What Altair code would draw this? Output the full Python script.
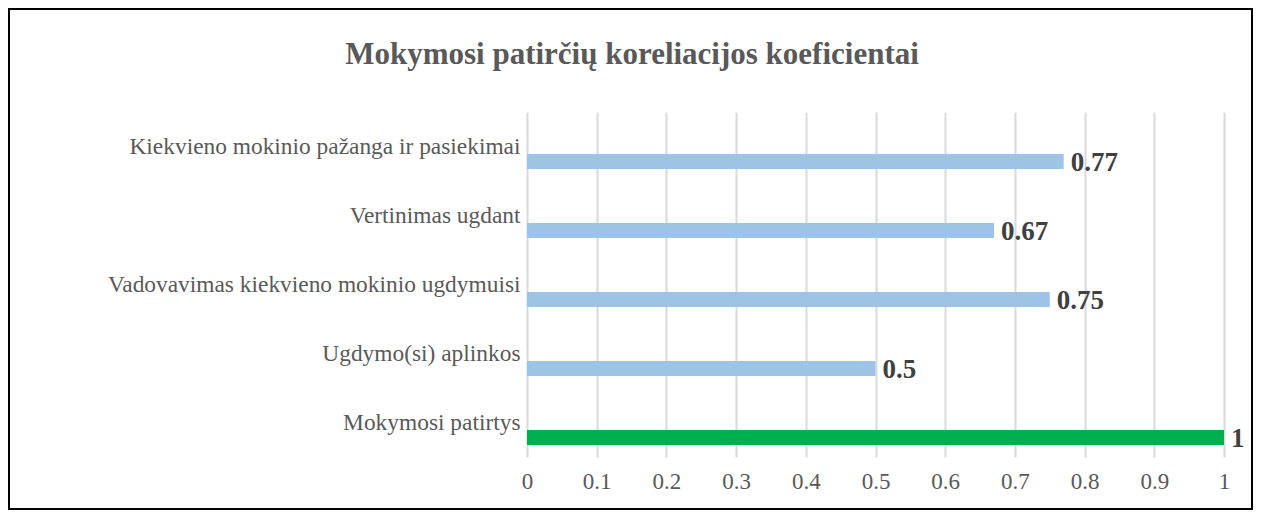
import altair as alt
import pandas as pd

categories = [
    "Kiekvieno mokinio pažanga ir pasiekimai",
    "Vertinimas ugdant",
    "Vadovavimas kiekvieno mokinio ugdymuisi",
    "Ugdymo(si) aplinkos",
    "Mokymosi patirtys",
]
values = [0.77, 0.67, 0.75, 0.5, 1]
groups = ["dalis", "dalis", "dalis", "dalis", "visuma"]
x_ticks = [0, 0.1, 0.2, 0.3, 0.4, 0.5, 0.6, 0.7, 0.8, 0.9, 1]
title_text = "Mokymosi patirčių koreliacijos koeficientai"

df = pd.DataFrame({"category": categories, "value": values, "group": groups})

W, H = 697, 345
FONT = "Liberation Serif"
PAD_L, PAD_T, PAD_R, PAD_B = 519, 104, 29, 53

y_enc = alt.Y(
    "category:N",
    sort=categories,
    scale=alt.Scale(paddingInner=0, paddingOuter=0),
    axis=alt.Axis(
        title=None, labelFont=FONT, labelFontSize=23.4, labelColor="#595959",
        labelPadding=7, ticks=False, domain=False, grid=False, labelLimit=600,
    ),
)
x_enc = alt.X(
    "value:Q",
    scale=alt.Scale(domain=[0, 1], nice=False),
    axis=alt.Axis(
        title=None, values=x_ticks, grid=True, gridColor="#D9D9D9", gridWidth=2,
        ticks=False, domain=False, labelFont=FONT, labelFontSize=23,
        labelColor="#595959", labelPadding=13, format="~g", labelFlush=False,
    ),
)

base = alt.Chart(df)

bars = base.mark_bar(height=15, yOffset=15).encode(
    x=x_enc,
    y=y_enc,
    color=alt.Color(
        "group:N",
        scale=alt.Scale(domain=["dalis", "visuma"], range=["#9DC3E6", "#00B050"]),
        legend=None,
    ),
)

labels = base.mark_text(
    align="left", baseline="middle", dx=7, yOffset=16, font=FONT,
    fontWeight="bold", fontSize=27, color="#404040",
).encode(
    x=alt.X("value:Q"),
    y=alt.Y("category:N", sort=categories),
    text=alt.Text("value:Q", format="~g"),
)

one = pd.DataFrame({"t": [title_text]})
title = alt.Chart(one).mark_text(
    font=FONT, fontWeight="bold", fontSize=31, color="#595959",
    align="center", baseline="middle",
).encode(x=alt.value(105), y=alt.value(-57), text="t:N")

border = alt.Chart(one).mark_rect(
    fill="transparent", stroke="black", strokeWidth=2,
).encode(
    x=alt.value(-518), x2=alt.value(725),
    y=alt.value(-103), y2=alt.value(502 - 1 - PAD_T),
)

chart = alt.layer(bars, labels, title, border).properties(
    width=W, height=H,
    autosize=alt.AutoSizeParams(type="none"),
    padding={"left": PAD_L, "top": PAD_T, "right": PAD_R, "bottom": PAD_B},
).configure_view(stroke=None)

chart.save("out.html", embed_options={"renderer": "svg", "actions": False})
